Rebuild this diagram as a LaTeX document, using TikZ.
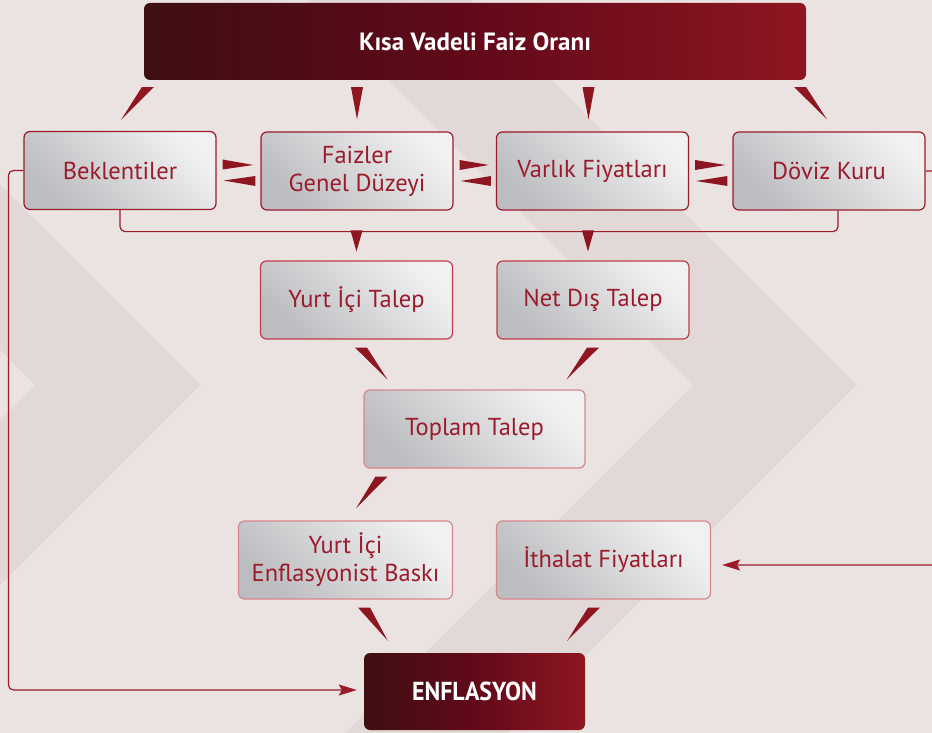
\documentclass[tikz,border=0pt]{standalone}
\usepackage{fontspec}
\setmainfont{PT Sans}
\newfontfamily\narrowfont[FakeStretch=0.92]{PT Sans}
\usetikzlibrary{calc, arrows.meta}

\definecolor{bgpink}{HTML}{EBE3E2}
\definecolor{bgband}{HTML}{E2D8D7}
\definecolor{wine}{HTML}{9B1B2B}
\definecolor{darkwine}{HTML}{3E0F11}
\definecolor{midwine}{HTML}{62091A}
\definecolor{brightwine}{HTML}{8E1621}
\definecolor{boxlight}{HTML}{F1F1F2}
\definecolor{boxdark}{HTML}{BCBDC0}
\definecolor{edgemid}{HTML}{C13C49}
\definecolor{edgelight}{HTML}{D7878C}

\tikzset{
  greybox/.style={draw=wine, line width=1.2pt, rounded corners=6pt,
    top color=boxlight, bottom color=boxdark, shading angle=-45,
    minimum width=192pt, minimum height=78pt, inner sep=0pt,
    text=wine, align=center, font=\fontsize{24.5}{28}\selectfont},
  darkbox/.style={rounded corners=6pt, left color=darkwine,
    right color=brightwine, middle color=midwine, text=white},
  link/.style={draw=wine, line width=1.2pt, rounded corners=5pt},
  tipped/.style={-{Stealth[length=18pt, width=11pt, inset=3pt]}},
  wedgefill/.style={fill=brightwine}
}

% thin wedge with a flat base, pointing at its second point
\newcommand{\vwedge}[2]{%
  \path (#1) coordinate (wa) (#2) coordinate (wb);
  \fill[wedgefill] ($(wa)+(-6,0)$) -- ($(wa)+(6,0)$) -- (wb) -- cycle;}
\newcommand{\hwedge}[2]{%
  \path (#1) coordinate (wa) (#2) coordinate (wb);
  \fill[wedgefill] ($(wa)+(0,-5)$) -- ($(wa)+(0,5)$) -- (wb) -- cycle;}

\begin{document}
\begin{tikzpicture}[x=1pt, y=-1pt]
  \useasboundingbox (0,0) rectangle (932,733);
  \begin{scope}
    \clip (0,0) rectangle (932,733);

    % === Background chevrons ===
    \fill[bgpink] (0,0) rectangle (932,733);
    \foreach \p/\q in {35/200, 693/856}
      \fill[bgband] (\p-420,-35) -- (\q-420,-35) -- (\q,385)
        -- (\q-420,805) -- (\p-420,805) -- (\p,385) -- cycle;

    % === Boxes ===
    \node[darkbox, minimum width=662pt, minimum height=77pt,
          font=\bfseries\fontsize{25}{28}\selectfont] (kisa) at (475,41.5) {Kısa Vadeli Faiz Oranı};

    \node[greybox] (bek) at (120,170.5) {Beklentiler};
    \node[greybox] (faiz) at (357,171) {Faizler\\Genel Düzeyi};
    \node[greybox] (varlik) at (592.5,171) {Varlık Fiyatları};
    \node[greybox] (doviz) at (829,171) {Döviz Kuru};

    \node[greybox, draw=edgemid] (yurt) at (356.5,300) {Yurt İçi Talep};
    \node[greybox, draw=edgemid] (net) at (593,300) {Net Dış Talep};

    \node[greybox, draw=edgelight, minimum width=221pt] (toplam) at (474.5,429) {Toplam Talep};

    \node[greybox, draw=edgelight, minimum width=214pt] (baski) at (345.5,560) {Yurt İçi\\Enflasyonist Baskı};
    \node[greybox, draw=edgelight, minimum width=214pt] (ithalat) at (603.5,560) {İthalat Fiyatları};

    \node[darkbox, minimum width=221pt, minimum height=77pt,
          font=\narrowfont\bfseries\fontsize{26}{28}\selectfont] (enf) at (474.5,691.5) {ENFLASYON};

    % === Wedges from the policy rate ===
    \vwedge{$(kisa.south west)+(4,7)$}{$(bek.north)+(1,-11)$}
    \vwedge{$(kisa.south -| faiz.north)+(0,7)$}{$(faiz.north)+(0,-12)$}
    \vwedge{$(kisa.south -| varlik.north)+(-4,7)$}{$(varlik.north)+(-4,-12)$}
    \vwedge{$(kisa.south east)+(-6,7)$}{$(doviz.north)+(-2,-12)$}

    % === Two-way wedges in the first row ===
    \foreach \a/\b in {bek/faiz, faiz/varlik, varlik/doviz} {
      \hwedge{$(\a.east)+(6,-6)$}{$(\b.west)+(-7,-6)$}
      \hwedge{$(\b.west)+(-5,10)$}{$(\a.east)+(7,10)$}
    }

    % === Bus under the first row ===
    \draw[link] (bek.south) |- ($(doviz.south)+(9,21)$) -- ($(doviz.south)+(9,0)$);
    \vwedge{$(yurt.north)+(0,-30)$}{$(yurt.north)+(0,-9)$}
    \vwedge{$(net.north)+(-5,-30)$}{$(net.north)+(-5,-9)$}

    % === Demand to inflation ===
    \vwedge{$(yurt.south)+(4.5,8)$}{$(toplam.north west)+(24,-10)$}
    \vwedge{$(net.south)+(0,8)$}{$(toplam.north east)+(-19,-10)$}
    \vwedge{$(toplam.south west)+(18,8)$}{$(baski.north)+(10.5,-12)$}
    \vwedge{$(baski.south)+(18.5,8)$}{$(enf.north west)+(24,-12)$}
    \vwedge{$(ithalat.south)+(-9.5,8)$}{$(enf.north east)+(-18,-12)$}

    % === Feedback lines ===
    \draw[link, tipped] (bek.west) -- ++(-15,0) |- ($(enf.west)+(-7,-1.5)$);
    \draw[link, tipped] (doviz.east) -- ++(20,0) |- ($(ithalat.east)+(11,5)$);
  \end{scope}
\end{tikzpicture}
\end{document}
